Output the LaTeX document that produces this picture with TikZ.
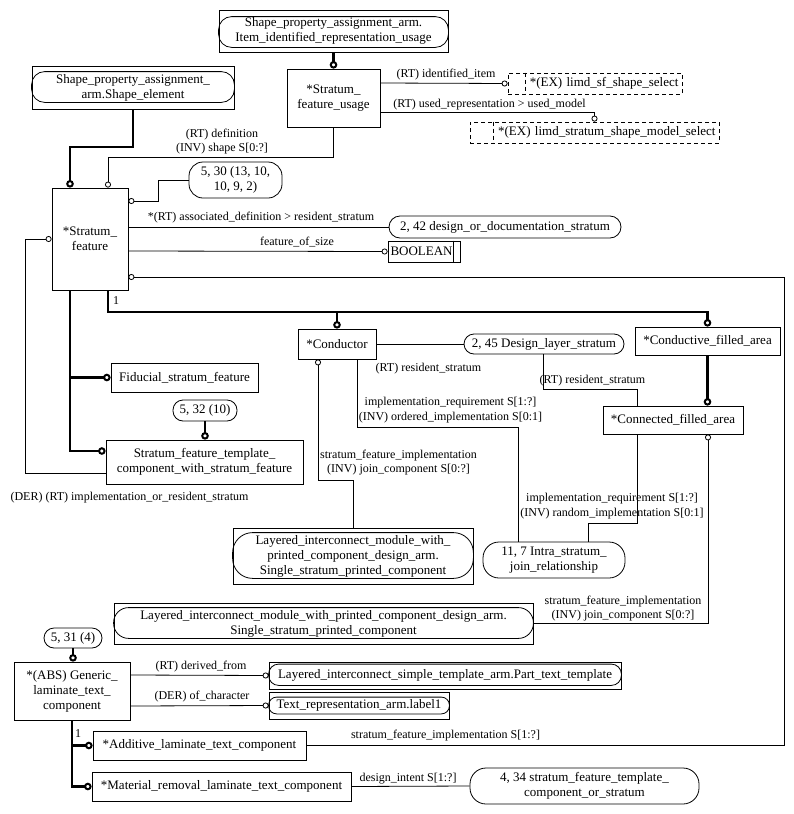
\documentclass[tikz,border=0pt]{standalone}
\usepackage{fontspec}
\setmainfont{Liberation Serif}
\usetikzlibrary{arrows.meta,calc}
\newcommand\schref[4]{\draw[line width=0.8pt, rounded corners=#4] ([yshift=-#2]#1.north west) rectangle ([yshift=#3]#1.south east);}
\begin{document}
\begin{tikzpicture}[x=1pt,y=-1pt,
  every node/.style={font=\fontsize{12}{14.5}\selectfont, inner sep=0pt},
  ent/.style={draw, line width=0.8pt, align=center, font=\fontsize{13}{15}\selectfont},
  rnd/.style={draw, line width=0.8pt, align=center, rounded corners=#1, font=\fontsize{13}{15}\selectfont},
  dbox/.style={draw, line width=0.8pt, dash pattern=on 4pt off 3pt, font=\fontsize{13}{15}\selectfont},
  thn/.style={line width=0.8pt},
  thk/.style={line width=2.2pt},
  oc/.style={-{Circle[open,length=6pt,width=6pt,line width=0.8pt]}},
  oct/.style={-{Circle[open,length=7.5pt,width=7.5pt,line width=2pt]}},
  lbl/.style={align=center}
]
\useasboundingbox[fill=white] (0,0) rectangle (794,814);

% ---------- entity / reference nodes ----------
\node[ent, minimum width=229pt, minimum height=42pt] (spaIIR) at (333.5,31) {Shape\_property\_assignment\_arm.\\Item\_identified\_representation\_usage};
\schref{spaIIR}{7pt}{5pt}{13pt}
\node[ent, minimum width=93pt, minimum height=58pt] (sfu) at (333.5,98) {*Stratum\_\\feature\_usage};
\node[dbox, minimum width=174pt, minimum height=21pt, text width=167pt, inner xsep=3.5pt, align=right] (limd1) at (595,83.5) {*(EX) limd\_sf\_shape\_select};
\draw[line width=0.8pt, dash pattern=on 4pt off 3pt] ([xshift=18pt]limd1.north west) -- ([xshift=18pt]limd1.south west);
\node[dbox, minimum width=249pt, minimum height=21pt, text width=242pt, inner xsep=3.5pt, align=right] (limd2) at (594.5,132.5) {*(EX) limd\_stratum\_shape\_model\_select};
\draw[line width=0.8pt, dash pattern=on 4pt off 3pt] ([xshift=24pt]limd2.north west) -- ([xshift=24pt]limd2.south west);
\node[ent, minimum width=202pt, minimum height=43pt] (spaSE) at (133,87.5) {Shape\_property\_assignment\_\\arm.Shape\_element};
\schref{spaSE}{6pt}{7pt}{13pt}
\node[ent, minimum width=76pt, minimum height=102pt] (sf) at (90,239) {*Stratum\_\\feature};
\node[rnd=14pt, minimum width=93pt, minimum height=36pt] (r530) at (235.5,180) {5, 30 (13, 10,\\10, 9, 2)};
\node[rnd=11pt, minimum width=232pt, minimum height=22pt] (r242) at (505,227) {2, 42 design\_or\_documentation\_stratum};
\node[ent, minimum width=72pt, minimum height=21pt, text width=67pt, inner xsep=2.5pt, align=left] (bool) at (424,251.5) {BOOLEAN};
\draw[line width=0.8pt] ([xshift=-7pt]bool.north east) -- ([xshift=-7pt]bool.south east);
\node[ent, minimum width=78pt, minimum height=30pt] (cond) at (337,344) {*Conductor};
\node[rnd=10pt, minimum width=160pt, minimum height=20pt] (r245) at (544,344) {2, 45 Design\_layer\_stratum};
\node[ent, minimum width=145pt, minimum height=28pt] (cfa) at (707.5,341) {*Conductive\_filled\_area};
\node[ent, minimum width=140pt, minimum height=28pt] (conn) at (673,420) {*Connected\_filled\_area};
\node[ent, minimum width=147pt, minimum height=29pt] (fid) at (184.5,377.5) {Fiducial\_stratum\_feature};
\node[rnd=10pt, minimum width=64pt, minimum height=21pt] (r532) at (205,410.5) {5, 32 (10)};
\node[ent, minimum width=197pt, minimum height=44pt] (sftc) at (204.5,462) {Stratum\_feature\_template\_\\component\_with\_stratum\_feature};
\node[ent, minimum width=240pt, minimum height=56pt] (lay1) at (353,556) {Layered\_interconnect\_module\_with\_\\printed\_component\_design\_arm.\\Single\_stratum\_printed\_component};
\schref{lay1}{5pt}{6pt}{20pt}
\node[rnd=16pt, minimum width=142pt, minimum height=36pt] (intra) at (554,560) {11, 7 Intra\_stratum\_\\join\_relationship};
\node[ent, minimum width=419pt, minimum height=41pt] (lay2) at (323.5,623.5) {Layered\_interconnect\_module\_with\_printed\_component\_design\_arm.\\Single\_stratum\_printed\_component};
\schref{lay2}{5pt}{6pt}{15pt}
\node[rnd=10pt, minimum width=58pt, minimum height=20pt] (r531) at (73,638) {5, 31 (4)};
\node[ent, minimum width=116pt, minimum height=58pt] (glt) at (72,691) {*(ABS) Generic\_\\laminate\_text\_\\component};
\node[ent, minimum width=352pt, minimum height=27pt] (part) at (445,675.5) {Layered\_interconnect\_simple\_template\_arm.Part\_text\_template};
\schref{part}{2.5pt}{4pt}{10pt}
\node[ent, minimum width=180pt, minimum height=27pt] (lab1) at (359,705.5) {Text\_representation\_arm.label1};
\schref{lab1}{5.5pt}{5.5pt}{8pt}
\node[ent, minimum width=213pt, minimum height=29pt] (add) at (199.5,745.5) {*Additive\_laminate\_text\_component};
\node[ent, minimum width=259pt, minimum height=29pt] (mat) at (221.5,786.5) {*Material\_removal\_laminate\_text\_component};
\node[rnd=16pt, minimum width=229pt, minimum height=36pt] (r434) at (584.5,786) {4, 34 stratum\_feature\_template\_\\component\_or\_stratum};

% ---------- connectors ----------
\draw[thk,oct] (spaIIR.south) -- (sfu.north);
\draw[thk,oct] (spaSE.south) |- (70,147) -- ([xshift=-20pt]sf.north);
\draw[thn,oc] (sfu.south) |- (108,157) -- ([xshift=18pt]sf.north);
\draw[thn,oc] (r530.west) -- (158,180) |- ([yshift=38pt]sf.east);
\draw[thn] ([yshift=12pt]sf.east) -- (r242.west);
\draw[thn,oc] ([yshift=-12pt]sf.east) -- (bool.west);
\draw[thn,oc] (add.east) -| (784,277) -- ([yshift=-38pt]sf.east);
\draw[thn,oc] ([yshift=15pt]sfu.east) -- (limd1.west);
\draw[thn,oc] ([yshift=-14pt]sfu.east) -| (limd2.north);

% subtype tree of Stratum_feature (1)
\coordinate (jc) at (337,312);
\draw[thk,oct] ([xshift=18pt]sf.south) |- (707.5,312) -- (cfa.north);
\draw[thk,oct] (jc) -- (cond.north);
% subtype tree of Stratum_feature (plain)
\coordinate (jf) at (70,377.5);
\draw[thk,oct] ([xshift=-20pt]sf.south) |- ([yshift=11pt]sftc.west);
\draw[thk,oct] (jf) -- (fid.west);
\draw[thk,oct] (r532.south) -- (r532.south |- sftc.north);
\draw[thn,oc] ([yshift=-11pt]sftc.west) -| (25,239) -- (sf.west);

\draw[thn] (cond.east) -- (r245.west);
\draw[thn] ([xshift=-1pt]r245.south) |- (637,389) -- ([xshift=-36pt]conn.north);
\draw[thk,oct] (cfa.south) -- (cfa.south |- conn.north);
\draw[thn] ([xshift=20pt]cond.south) |- (518,427) -- ([xshift=-36pt]intra.north);
\draw[thn] ([xshift=-36pt]conn.south) |- (588,523) -- ([xshift=34pt]intra.north);
\draw[thn,oc] (lay1.north) |- (318,480) -- ([xshift=-19pt]cond.south);
\draw[thn,oc] (lay2.east) -| ([xshift=35pt]conn.south);

\draw[thk,oct] (r531.south) -- (r531.south |- glt.north);
\draw[thn,oc] ([yshift=16pt]glt.east) -- (part.west);
\draw[thn,oc] ([yshift=-15pt]glt.east) -- (lab1.west);
\coordinate (ja) at (72,745.5);
\draw[thk,oct] (glt.south) |- (mat.west);
\draw[thk,oct] (ja) -- (add.west);
\draw[thn] (mat.east) -- (r434.west);

% ---------- labels ----------
\node[lbl] (L1) at (222,141.5) {(RT) definition\\(INV) shape S[0:?]};
\node[lbl] (L2) at (446,75) {(RT) identified\_item};
\node[lbl] (L3) at (489.5,104.5) {(RT) used\_representation > used\_model};
\node[lbl] (L4) at (261,218) {*(RT) associated\_definition > resident\_stratum};
\node[lbl] (L5) at (297,242) {feature\_of\_size};
\node[lbl] (L6) at (116,300.5) {1};
\node[lbl] (L7) at (428.5,369) {(RT) resident\_stratum};
\node[lbl] (L8) at (592.5,381) {(RT) resident\_stratum};
\node[lbl] (L9) at (450.5,410) {implementation\_requirement S[1:?]\\(INV) ordered\_implementation S[0:1]};
\node[lbl] (L10) at (398.5,462.5) {stratum\_feature\_implementation\\(INV) join\_component S[0:?]};
\node[lbl] (L11) at (612,506) {implementation\_requirement S[1:?]\\(INV) random\_implementation S[0:1]};
\node[lbl] (L12) at (623,608.5) {stratum\_feature\_implementation\\(INV) join\_component S[0:?]};
\node[lbl] (L13) at (129.5,497.5) {(DER) (RT) implementation\_or\_resident\_stratum};
\node[lbl] (L14) at (201,666.5) {(RT) derived\_from};
\node[lbl] (L15) at (202,696.5) {(DER) of\_character};
\node[lbl] (L16) at (78,734) {1};
\node[lbl] (L17) at (445.5,736) {stratum\_feature\_implementation S[1:?]};
\node[lbl] (L18) at (408,778.5) {design\_intent S[1:?]};
\end{tikzpicture}
\end{document}
